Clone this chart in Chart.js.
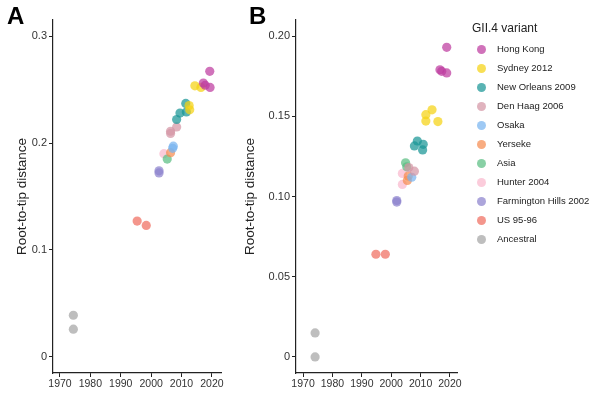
<!DOCTYPE html>
<html>
<head>
<meta charset="utf-8">
<script src="https://cdn.jsdelivr.net/npm/chart.js@4.4.1/dist/chart.umd.min.js"></script>
<style>
  body { margin: 0; background: #fff; width: 600px; height: 397px; position: relative; overflow: hidden; }
  canvas { position: absolute; top: 0; }
  .tag { position: absolute; top: 2px; font: bold 24px "Liberation Sans", Arial, sans-serif; color: #000; }
  #legend { position: absolute; left: 472px; top: 0; width: 128px; font-family: "Liberation Sans", Arial, sans-serif; color: #222; }
  #legend .title { position: absolute; left: 0; top: 20px; font-size: 12px; line-height: 16px; white-space: nowrap; }
  #legend .item { position: absolute; left: 0; height: 14px; font-size: 9.5px; line-height: 14px; white-space: nowrap; }
  #legend .dot { position: absolute; left: 4.5px; top: 2.5px; width: 9px; height: 9px; border-radius: 50%; }
  #legend .lbl { position: absolute; left: 25px; top: 0; }
</style>
</head>
<body>
<canvas id="chartA" width="232" height="397" style="left:0"></canvas>
<canvas id="chartB" width="236" height="397" style="left:228px"></canvas>
<div class="tag" style="left:7px">A</div>
<div class="tag" style="left:249px">B</div>
<div id="legend"></div>

<script>
const variants = ['Hong Kong', 'Sydney 2012', 'New Orleans 2009', 'Den Haag 2006', 'Osaka', 'Yerseke',
  'Asia', 'Hunter 2004', 'Farmington Hills 2002', 'US 95-96', 'Ancestral'];
const colors = ['rgba(190,60,160,0.72)', 'rgba(245,210,20,0.72)', 'rgba(25,150,150,0.72)', 'rgba(212,150,165,0.72)',
  'rgba(120,180,240,0.72)', 'rgba(245,140,80,0.72)', 'rgba(90,190,130,0.72)', 'rgba(250,185,205,0.72)',
  'rgba(140,130,205,0.72)', 'rgba(240,110,95,0.72)', 'rgba(165,165,165,0.72)'];

const xTicks = [1970, 1980, 1990, 2000, 2010, 2020];
const yTicksA = [0, 0.1, 0.2, 0.3];
const yLabelsA = ['0', '0.1', '0.2', '0.3'];
const yTicksB = [0, 0.05, 0.1, 0.15, 0.2];
const yLabelsB = ['0', '0.05', '0.10', '0.15', '0.20'];

// panel A: [year, root-to-tip distance]
const hongKongA = [[2017.2, 0.256], [2017.8, 0.254], [2019.3, 0.267], [2019.4, 0.252]];
const sydneyA = [[2014.4, 0.2535], [2016.4, 0.252], [2012.5, 0.235], [2012.7, 0.231]];
const newOrleansA = [[2011.4, 0.237], [2011.6, 0.229], [2009.5, 0.228], [2008.4, 0.222]];
const denHaagA = [[2008.4, 0.215], [2006.4, 0.211], [2006.4, 0.209]];
const osakaA = [[2007.3, 0.197], [2007.1, 0.195]];
const yersekeA = [[2006.4, 0.191]];
const asiaA = [[2005.3, 0.185]];
const hunterA = [[2004.2, 0.190]];
const farmingtonA = [[2002.6, 0.174], [2002.6, 0.172]];
const usA = [[1995.4, 0.127], [1998.4, 0.123]];
const ancestralA = [[1974.4, 0.039], [1974.4, 0.026]];

// panel B
const hongKongB = [[2018.9, 0.193], [2016.6, 0.179], [2017.2, 0.178], [2018.9, 0.177]];
const sydneyB = [[2013.9, 0.154], [2011.8, 0.151], [2011.8, 0.147], [2015.9, 0.1467]];
const newOrleansB = [[2008.9, 0.1346], [2007.9, 0.1315], [2010.9, 0.1325], [2010.7, 0.129]];
const denHaagB = [[2007.9, 0.1158], [2006.0, 0.118]];
const osakaB = [[2007.0, 0.112]];
const yersekeB = [[2005.8, 0.1127], [2005.5, 0.110]];
const asiaB = [[2004.9, 0.121], [2005.3, 0.1185]];
const hunterB = [[2003.8, 0.1144], [2003.8, 0.1075]];
const farmingtonB = [[2001.9, 0.0975], [2001.9, 0.0965]];
const usB = [[1994.8, 0.064], [1998.0, 0.064]];
const ancestralB = [[1974.1, 0.015], [1974.1, 0.0]];

const seriesA = [hongKongA, sydneyA, newOrleansA, denHaagA, osakaA, yersekeA, asiaA, hunterA, farmingtonA, usA, ancestralA];
const seriesB = [hongKongB, sydneyB, newOrleansB, denHaagB, osakaB, yersekeB, asiaB, hunterB, farmingtonB, usB, ancestralB];

const fontFamily = '"Liberation Sans", Arial, sans-serif';
const axisColor = '#222';

function makePanel(id, series, xMin, xMax, yMin, yMax, yTicks, yLabels, yWidth, padRight) {
  const datasets = series.map((pts, i) => ({
    label: variants[i],
    data: pts.map(p => ({ x: p[0], y: p[1] })),
    backgroundColor: colors[i],
    borderWidth: 0,
    pointRadius: 4.6,
    pointHoverRadius: 4.6
  }));

  return new Chart(document.getElementById(id), {
    type: 'scatter',
    data: { datasets: datasets },
    options: {
      responsive: false,
      animation: false,
      layout: { padding: { top: 20, right: padRight, left: 0, bottom: 0 } },
      plugins: { legend: { display: false }, tooltip: { enabled: false } },
      scales: {
        x: {
          type: 'linear', min: xMin, max: xMax,
          afterBuildTicks: s => { s.ticks = xTicks.map(v => ({ value: v })); },
          afterFit: s => { s.height = 24; },
          ticks: { font: { family: fontFamily, size: 10.5 }, color: '#333', padding: 1, callback: v => String(v), maxRotation: 0 },
          grid: { drawOnChartArea: false, drawTicks: true, tickLength: 4, tickColor: axisColor },
          border: { display: true, color: axisColor, width: 1.2 }
        },
        y: {
          type: 'linear', min: yMin, max: yMax,
          afterBuildTicks: s => { s.ticks = yTicks.map(v => ({ value: v })); },
          afterFit: s => { s.width = yWidth; },
          ticks: { font: { family: fontFamily, size: 11 }, color: '#333', padding: 2,
            callback: v => { const k = yTicks.findIndex(t => Math.abs(t - v) < 1e-9); return k >= 0 ? yLabels[k] : ''; } },
          grid: { drawOnChartArea: false, drawTicks: true, tickLength: 4, tickColor: axisColor },
          border: { display: true, color: axisColor, width: 1.2 },
          title: { display: true, text: 'Root-to-tip distance', color: '#222',
            font: { family: fontFamily, size: 13.5 },
            padding: { top: 14, bottom: 0 } }
        }
      }
    }
  });
}

makePanel('chartA', seriesA, 1967.7, 2023.0, -0.015, 0.315, yTicksA, yLabelsA, 53, 11);
makePanel('chartB', seriesB, 1967.6, 2022.4, -0.01, 0.21, yTicksB, yLabelsB, 68, 7);

// legend
const legend = document.getElementById('legend');
const t = document.createElement('div');
t.className = 'title';
t.textContent = 'GII.4 variant';
legend.appendChild(t);
variants.forEach((name, i) => {
  const row = document.createElement('div');
  row.className = 'item';
  row.style.top = (42 + 19 * i) + 'px';
  const dot = document.createElement('span');
  dot.className = 'dot';
  dot.style.background = colors[i];
  const lbl = document.createElement('span');
  lbl.className = 'lbl';
  lbl.textContent = name;
  row.appendChild(dot);
  row.appendChild(lbl);
  legend.appendChild(row);
});
</script>
</body>
</html>
